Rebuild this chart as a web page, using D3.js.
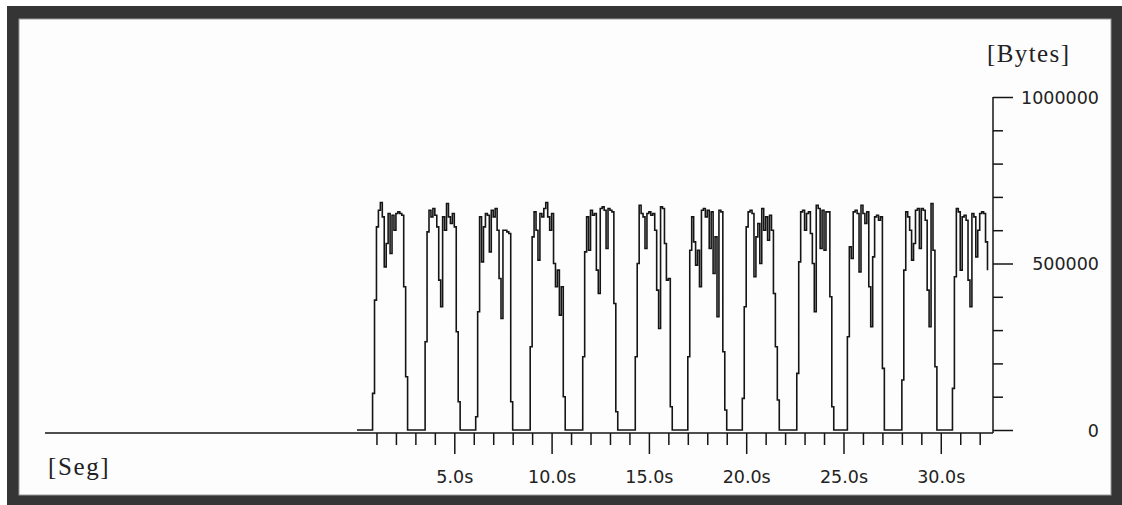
<!DOCTYPE html>
<html>
<head>
<meta charset="utf-8">
<script src="https://cdn.jsdelivr.net/npm/d3@7"></script>
<style>
  html, body { margin: 0; padding: 0; background: #fff; }
  svg { display: block; }
</style>
</head>
<body>
<svg id="chart" width="1122" height="505"></svg>
<script>
// Throughput samples, one every sampleStep seconds (bytes per interval)
const sampleStep = 0.1;
const bytesPerSample = [
  0, 0, 0, 0, 0, 0, 0, 0,
  110000, 390000, 610000, 660000, 683000, 640000, 490000, 560000, 650000, 530000, 645000, 600000, 650000, 655000, 650000, 645000, 430000, 160000,
  0, 0, 0, 0, 0, 0, 0, 0, 0,
  265000, 595000, 660000, 640000, 665000, 645000, 610000, 450000, 370000, 640000, 600000, 680000, 640000, 620000, 650000, 610000, 295000, 85000,
  0, 0, 0, 0, 0, 0, 0, 0,
  40000, 355000, 640000, 505000, 610000, 650000, 645000, 535000, 660000, 640000, 665000, 600000, 455000, 335000, 600000, 600000, 595000, 590000, 85000,
  0, 0, 0, 0, 0, 0, 0, 0, 0,
  250000, 580000, 655000, 600000, 510000, 650000, 640000, 665000, 683000, 640000, 600000, 650000, 500000, 430000, 480000, 345000, 430000, 100000,
  0, 0, 0, 0, 0, 0, 0, 0, 0,
  220000, 535000, 640000, 540000, 660000, 645000, 650000, 480000, 410000, 665000, 670000, 660000, 545000, 665000, 660000, 655000, 380000, 55000,
  0, 0, 0, 0, 0, 0, 0, 0, 0,
  220000, 500000, 675000, 650000, 640000, 545000, 650000, 655000, 645000, 650000, 600000, 420000, 305000, 670000, 665000, 560000, 450000, 455000, 70000,
  0, 0, 0, 0, 0, 0, 0, 0,
  220000, 540000, 640000, 565000, 495000, 540000, 430000, 660000, 665000, 640000, 660000, 545000, 655000, 470000, 580000, 340000, 660000, 655000, 235000, 60000,
  0, 0, 0, 0, 0, 0, 0, 0,
  95000, 370000, 610000, 655000, 660000, 650000, 460000, 580000, 620000, 500000, 665000, 600000, 640000, 570000, 645000, 600000, 410000, 250000, 90000,
  0, 0, 0, 0, 0, 0, 0, 0, 0,
  170000, 505000, 655000, 660000, 600000, 650000, 655000, 590000, 500000, 355000, 675000, 665000, 545000, 660000, 540000, 655000, 655000, 400000, 70000,
  0, 0, 0, 0, 0, 0, 0,
  280000, 550000, 515000, 655000, 660000, 650000, 475000, 675000, 650000, 620000, 655000, 430000, 310000, 520000, 640000, 645000, 630000, 640000, 185000,
  0, 0, 0, 0, 0, 0, 0, 0, 0,
  150000, 480000, 655000, 640000, 600000, 510000, 560000, 660000, 665000, 545000, 665000, 660000, 630000, 420000, 310000, 680000, 540000, 190000,
  0, 0, 0, 0, 0, 0, 0, 0,
  125000, 460000, 665000, 655000, 480000, 640000, 645000, 630000, 450000, 370000, 650000, 640000, 520000, 600000, 650000, 655000, 650000, 565000, 480000
];

// Axis ticks
const timeMajorTicks = [5, 10, 15, 20, 25, 30];
const timeMinorTicks = [1, 2, 3, 4, 6, 7, 8, 9, 11, 12, 13, 14, 16, 17, 18, 19, 21, 22, 23, 24, 26, 27, 28, 29, 31, 32];
const bytesMajorTicks = [0, 500000, 1000000];
const bytesMinorTicks = [100000, 200000, 300000, 400000, 600000, 700000, 800000, 900000];

const xTitle = "[Seg]";
const yTitle = "[Bytes]";

const svg = d3.select("#chart");
const ink = "#151515";

// Window frame
svg.append("rect").attr("x", 0).attr("y", 0).attr("width", 1122).attr("height", 505).attr("fill", "#fff");
svg.append("rect").attr("x", 7).attr("y", 6).attr("width", 1115).attr("height", 499).attr("fill", "#353535");
svg.append("rect").attr("x", 19).attr("y", 19).attr("width", 1092).attr("height", 476).attr("fill", "#fdfdfd")
  .attr("stroke", "#9a9a9a").attr("stroke-width", 1);

// Scales
const x = d3.scaleLinear().domain([0, 32]).range([357, 979.7]);
const y = d3.scaleLinear().domain([0, 1000000]).range([430, 97]);
const axisX = 993;
const baseY = y(0) + 3;

// Baseline running under the plot
svg.append("line")
  .attr("x1", 45).attr("x2", axisX).attr("y1", baseY).attr("y2", baseY)
  .attr("stroke", ink).attr("stroke-width", 1.5);

// Vertical bytes axis line
svg.append("line")
  .attr("x1", axisX).attr("x2", axisX).attr("y1", y(1000000)).attr("y2", baseY)
  .attr("stroke", ink).attr("stroke-width", 1.5);

// Time axis: minor then major ticks
const xMinor = svg.append("g").attr("transform", `translate(0,${baseY})`)
  .call(d3.axisBottom(x).tickValues(timeMinorTicks).tickSize(12).tickFormat(""));
const xMajor = svg.append("g").attr("transform", `translate(0,${baseY})`)
  .call(d3.axisBottom(x).tickValues(timeMajorTicks).tickSize(21).tickFormat(d => d.toFixed(1) + "s"));
[xMinor, xMajor].forEach(g => {
  g.select(".domain").remove();
  g.selectAll(".tick line").attr("stroke", ink).attr("stroke-width", 1.5);
});
xMajor.selectAll(".tick text")
  .attr("y", 50).attr("dy", 0)
  .attr("fill", "#222")
  .style("font-family", "'DejaVu Sans', sans-serif")
  .style("font-size", "17.5px");

// Bytes axis: minor then major ticks, labels right-aligned
const yMinor = svg.append("g").attr("transform", `translate(${axisX},0)`)
  .call(d3.axisRight(y).tickValues(bytesMinorTicks).tickSize(10).tickFormat(""));
const yMajor = svg.append("g").attr("transform", `translate(${axisX},0)`)
  .call(d3.axisRight(y).tickValues(bytesMajorTicks).tickSize(20).tickFormat(d3.format("d")));
[yMinor, yMajor].forEach(g => {
  g.select(".domain").remove();
  g.selectAll(".tick line").attr("stroke", ink).attr("stroke-width", 1.5);
});
yMajor.selectAll(".tick text")
  .attr("x", 106).attr("dy", "0.36em")
  .attr("text-anchor", "end")
  .attr("fill", "#222")
  .style("font-family", "'DejaVu Sans', sans-serif")
  .style("font-size", "17.5px");

// Throughput trace, drawn as steps
const line = d3.line()
  .x((d, i) => x(i * sampleStep))
  .y(d => y(d))
  .curve(d3.curveStepAfter);

svg.append("path")
  .datum(bytesPerSample)
  .attr("d", line)
  .attr("fill", "none")
  .attr("stroke", ink)
  .attr("stroke-width", 1.6)
  .attr("stroke-linejoin", "miter");

// Axis titles
svg.append("text")
  .attr("x", 48).attr("y", 475)
  .text(xTitle)
  .attr("fill", "#222")
  .style("font-family", "'Liberation Serif', 'Times New Roman', serif")
  .style("font-size", "25px")
  .style("letter-spacing", "1.6px");

svg.append("text")
  .attr("x", 987).attr("y", 62)
  .text(yTitle)
  .attr("fill", "#222")
  .style("font-family", "'Liberation Serif', 'Times New Roman', serif")
  .style("font-size", "25px")
  .style("letter-spacing", "1.4px");
</script>
</body>
</html>
